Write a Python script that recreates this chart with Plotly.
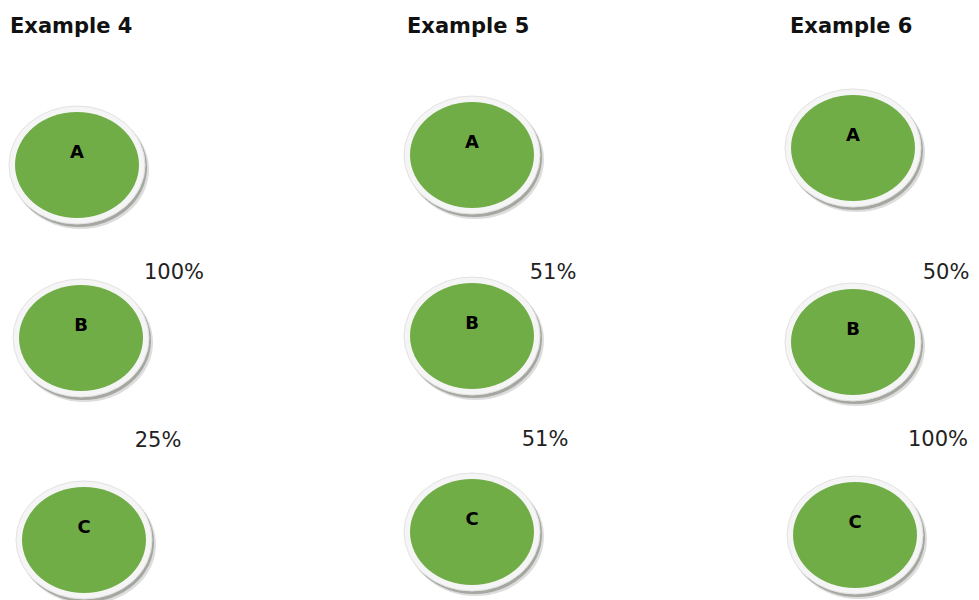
import plotly.graph_objects as go

# ---- data ----
examples = ["Example 4", "Example 5", "Example 6"]
nodes = ["A", "B", "C"]
pct_ab = ["100%", "51%", "50%"]    # label between A and B
pct_bc = ["25%", "51%", "100%"]    # label between B and C

# ---- layout constants (page-pixel axis units) ----
W, H = 979, 600
OFF = 8  # page body margin
col_x = [[77, 81, 84], [472, 472, 472], [853, 853, 855]]   # node centre x per column / row
row_y = [[165, 338, 540], [155, 336, 532], [148, 342, 535]]  # node centre y per column / row
title_x = [10, 407, 790]
title_y = 28
pab_xy = [(174, 274), (553, 274), (946, 274)]
pbc_xy = [(158, 442), (545, 441), (938, 441)]
RX, RY = 62, 53
RIM = 6
GREEN = "#70AD47"

fig = go.Figure()
shapes = []
for c in range(len(examples)):
    for r in range(len(nodes)):
        cx, cy = col_x[c][r], row_y[c][r]
        # soft shadow
        shapes.append(dict(type="circle", xref="x", yref="y",
                           x0=cx - RX - RIM + 3, x1=cx + RX + RIM + 4,
                           y0=cy - RY - RIM + 4, y1=cy + RY + RIM + 5,
                           fillcolor="rgba(120,120,120,0.25)", line=dict(width=0), layer="below"))
        shapes.append(dict(type="circle", xref="x", yref="y",
                           x0=cx - RX - RIM + 2, x1=cx + RX + RIM + 2,
                           y0=cy - RY - RIM + 2, y1=cy + RY + RIM + 3,
                           fillcolor="rgba(110,115,100,0.5)", line=dict(width=0), layer="below"))
        # white rim
        shapes.append(dict(type="circle", xref="x", yref="y",
                           x0=cx - RX - RIM, x1=cx + RX + RIM,
                           y0=cy - RY - RIM, y1=cy + RY + RIM,
                           fillcolor="#f5f5f5", line=dict(color="#e2e2e2", width=1), layer="below"))
        # green body
        shapes.append(dict(type="circle", xref="x", yref="y",
                           x0=cx - RX, x1=cx + RX, y0=cy - RY, y1=cy + RY,
                           fillcolor=GREEN, line=dict(width=0), layer="below"))
fig.update_layout(shapes=shapes)

# node letters
lx, ly, lt = [], [], []
for c in range(len(examples)):
    for r, n in enumerate(nodes):
        lx.append(col_x[c][r])
        ly.append(row_y[c][r] - 12)
        lt.append(n)
fig.add_trace(go.Scatter(x=lx, y=ly, text=lt, mode="text", hoverinfo="skip",
                         textfont=dict(family="DejaVu Sans", size=18, color="#000000", weight="bold"),
                         showlegend=False, cliponaxis=False))

# percent labels
fig.add_trace(go.Scatter(x=[p[0] for p in pab_xy] + [p[0] for p in pbc_xy],
                         y=[p[1] for p in pab_xy] + [p[1] for p in pbc_xy],
                         text=pct_ab + pct_bc, mode="text", hoverinfo="skip",
                         textfont=dict(family="DejaVu Sans", size=21, color="#222222"),
                         showlegend=False, cliponaxis=False))

# titles
fig.add_trace(go.Scatter(x=title_x, y=[title_y] * len(examples), text=examples,
                         mode="text", textposition="middle right", hoverinfo="skip",
                         textfont=dict(family="DejaVu Sans", size=21, color="#111111", weight="bold"),
                         showlegend=False, cliponaxis=False))

fig.update_layout(
    width=W - OFF, height=H - OFF, margin=dict(l=0, r=0, t=0, b=0),
    paper_bgcolor="white", plot_bgcolor="white",
    xaxis=dict(range=[OFF, W], visible=False, fixedrange=True),
    yaxis=dict(range=[H, OFF], visible=False, fixedrange=True),
)

fig.write_html("out.html")
